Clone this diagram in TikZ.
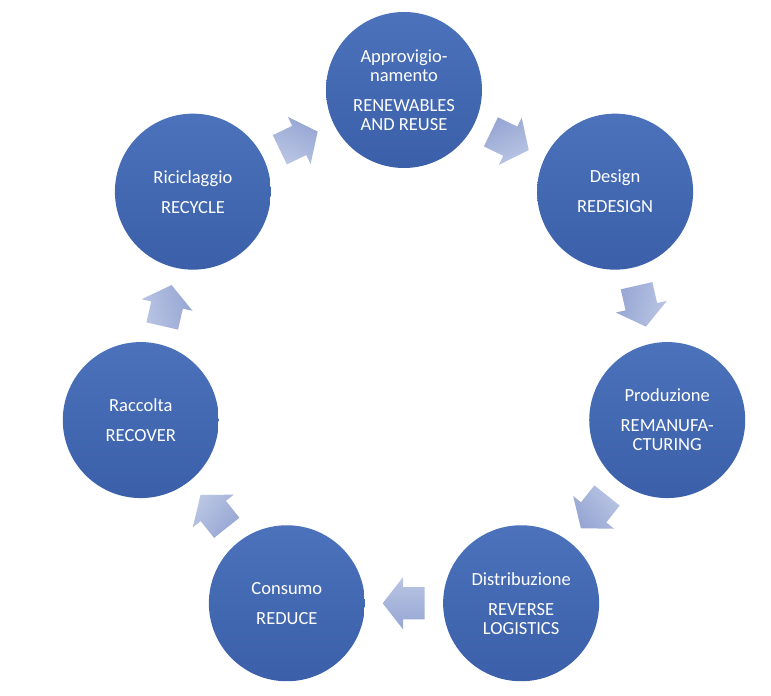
\documentclass[tikz,border=0pt]{standalone}
\usepackage{fontspec}
\setmainfont{Carlito}
\usetikzlibrary{shapes.arrows,calc}

\definecolor{stagetop}{RGB}{76,114,188}
\definecolor{stagebot}{RGB}{59,95,169}
\definecolor{arrowtop}{RGB}{150,166,211}
\definecolor{arrowbot}{RGB}{186,197,228}

\begin{document}
\begin{tikzpicture}[x=1pt,y=1pt,
  stage/.style={circle,minimum size=156pt,inner sep=0pt,
    top color=stagetop,bottom color=stagebot,text=white,
    align=center,font=\fontsize{18.5}{19}\selectfont},
  cyclearrow/.style={single arrow,single arrow head extend=10pt,
    single arrow tip angle=104,minimum height=42pt,
    inner xsep=0pt,inner ysep=16pt,top color=arrowtop,bottom color=arrowbot}]
  \useasboundingbox (0,0) rectangle (771,696);
  \coordinate (ring) at (404,336);

  % the seven stages, clockwise from the top
  \foreach \txt [count=\i] in {
      {Approvigio-\\namento\\[11pt]RENEWABLES\\AND REUSE},
      {Design\\[11pt]REDESIGN},
      {Produzione\\[11pt]REMANUFA-\\CTURING},
      {Distribuzione\\[11pt]REVERSE\\LOGISTICS},
      {Consumo\\[11pt]REDUCE},
      {Raccolta\\[11pt]RECOVER},
      {Riciclaggio\\[11pt]RECYCLE}}
    \node[stage] (stage\i) at ($(ring)+({90-(\i-1)*360/7}:270)$) {\txt};

  % block arrows between neighbours
  \foreach \i [evaluate=\i as \j using {int(mod(\i,7)+1)},
               evaluate=\i as \r using {-(\i-1)*360/7-180/7}] in {1,...,7}
    \node[cyclearrow,rotate=\r,xshift=-6pt,shading angle=-\r]
      (arrow\i) at ($(stage\i)!0.5!(stage\j)$) {};
\end{tikzpicture}
\end{document}
